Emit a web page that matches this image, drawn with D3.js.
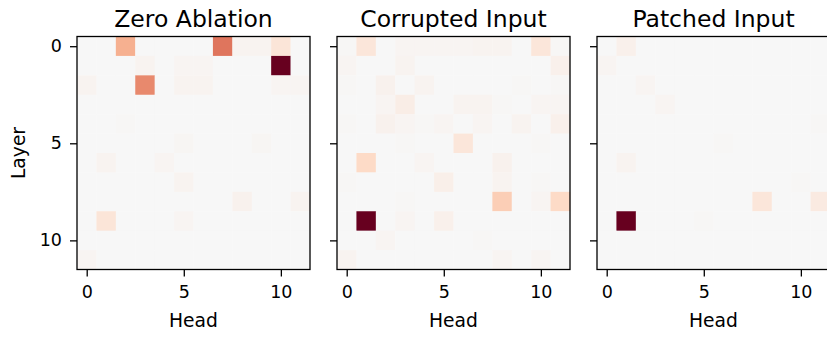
<!DOCTYPE html>
<html>
<head>
<meta charset="utf-8">
<script src="https://cdn.jsdelivr.net/npm/d3@7"></script>
<style>
  body { margin: 0; background: #fff; }
  text { font-family: "DejaVu Sans", sans-serif; fill: #000; }
</style>
</head>
<body>
<div id="chart"></div>
<script>
// head attribution per layer, three patching runs
let heads = d3.range(12);
let layers = d3.range(12);
let titles = ["Zero Ablation", "Corrupted Input", "Patched Input"];

let zeroAblation = [
  [0, 0, 0.36, 0, 0, 0, 0, 0.54, 0.03, 0.03, 0.13, 0],
  [0, 0, 0, 0.03, 0, 0.02, 0.02, 0, 0, 0, 1.0, 0],
  [0.03, 0, 0, 0.48, 0, 0.03, 0.03, 0, 0, 0, 0.02, 0.02],
  [0, 0, 0, 0, 0, 0, 0, 0, 0, 0, 0, 0],
  [0, 0, 0.01, 0, 0, 0, 0, 0, 0, 0, 0, 0],
  [0, 0, 0, 0, 0, 0.015, 0, 0, 0, 0.015, 0, 0],
  [0, 0.03, 0, 0, 0.02, 0, 0, 0, 0, 0, 0, 0],
  [0, 0, 0, 0, 0, 0.03, 0, 0, 0, 0, 0, 0],
  [0, 0, 0, 0, 0, 0, 0, 0, 0.04, 0, 0, 0.03],
  [0, 0.13, 0, 0, 0, 0.02, 0, 0, 0, 0, 0, 0],
  [0, 0, 0, 0, 0, 0, 0, 0, 0, 0, 0, 0],
  [0.02, 0, 0, 0, 0, 0, 0, 0, 0, 0, 0, 0]
];

let corruptedInput = [
  [0.01, 0.12, 0, 0.02, 0.02, 0.02, 0.02, 0.03, 0.03, 0, 0.12, 0.01],
  [0.02, 0, 0, 0.03, 0, 0, 0, 0, 0, 0, 0, 0.05],
  [0.01, 0, 0.04, 0, 0.03, 0, 0, 0, 0, 0.01, 0, 0.01],
  [0, 0, 0.02, 0.07, 0, 0, 0.03, 0.03, 0.01, 0, 0.02, 0.02],
  [0.01, 0, 0.04, 0.02, 0.01, 0.02, 0, 0.02, 0, 0.03, 0, 0.05],
  [0, 0, 0, 0.01, 0, 0, 0.12, 0, 0, 0, 0.01, 0],
  [0, 0.2, 0, 0, 0.02, 0, 0, 0, 0.04, 0, 0, 0],
  [0.01, 0, 0, 0, 0, 0.06, 0, 0, 0.03, 0, 0.01, 0],
  [0, 0, 0, 0.01, 0, 0, 0, 0, 0.25, 0, 0.02, 0.2],
  [0, 1.0, 0, 0.02, 0, 0.05, 0, 0, 0, 0, 0, 0],
  [0, 0, 0.02, 0, 0, 0, 0, 0.01, 0, 0, 0, 0],
  [0.03, 0, 0, 0, 0, 0, 0, 0, 0.02, 0, 0.02, 0]
];

let patchedInput = [
  [0, 0.05, 0, 0, 0, 0, 0, 0, 0, 0, 0, 0],
  [0.02, 0, 0, 0, 0, 0, 0, 0, 0, 0, 0, 0],
  [0, 0, 0.02, 0, 0, 0, 0, 0, 0, 0, 0, 0],
  [0, 0, 0, 0.02, 0, 0, 0, 0, 0, 0, 0, 0],
  [0, 0, 0, 0, 0, 0, 0, 0, 0, 0, 0, 0.01],
  [0, 0, 0, 0, 0, 0, 0.01, 0, 0, 0, 0, 0],
  [0, 0.03, 0, 0, 0, 0, 0, 0, 0, 0, 0, 0],
  [0, 0, 0, 0, 0, 0, 0, 0, 0, 0, 0.01, 0],
  [0, 0, 0, 0, 0, 0, 0, 0, 0.12, 0, 0, 0.09],
  [0, 1.0, 0, 0, 0, 0.01, 0, 0, 0, 0, 0, 0],
  [0, 0, 0, 0, 0, 0, 0, 0, 0, 0, 0, 0],
  [0, 0, 0, 0, 0, 0, 0, 0, 0, 0, 0, 0]
];

let panels = [zeroAblation, corruptedInput, patchedInput];

////////////////////////////////////////////////////////////////////////
// layout

let width = 827, height = 337;
let size = 233;
let panelLeft = [77, 337, 597];
let panelTop = 36.5;

// matplotlib's RdBu_r, linear between its 11 anchor colours
let rdbu = ["#053061", "#2166ac", "#4393c3", "#92c5de", "#d1e5f0", "#f7f7f7",
            "#fddbc7", "#f4a582", "#d6604d", "#b2182b", "#67001f"];
let colorScale = d3.scaleLinear()
  .domain(d3.range(11).map(i => -1 + i * 0.2))
  .range(rdbu)
  .interpolate(d3.interpolateRgb)
  .clamp(true);

let svg = d3.select("#chart").append("svg")
  .attr("width", width)
  .attr("height", height);

panels.forEach(function(data, p) {
  let x = d3.scaleBand().domain(heads).range([0, size]);
  let y = d3.scaleBand().domain(layers).range([0, size]);

  let g = svg.append("g")
    .attr("transform", "translate(" + panelLeft[p] + "," + panelTop + ")");

  let cells = [];
  data.forEach(function(row, r) {
    row.forEach(function(v, c) { cells.push({layer: r, head: c, value: v}); });
  });

  g.selectAll("rect.cell")
    .data(cells)
    .enter()
    .append("rect")
    .attr("class", "cell")
    .attr("x", d => x(d.head))
    .attr("y", d => y(d.layer))
    .attr("width", x.bandwidth() + 0.3)
    .attr("height", y.bandwidth() + 0.3)
    .attr("fill", d => colorScale(d.value));

  // axes: ticks at 0, 5, 10 through band centres
  let xl = d3.scaleLinear().domain([-0.5, 11.5]).range([0, size]);
  let yl = d3.scaleLinear().domain([-0.5, 11.5]).range([0, size]);

  let xAxis = g.append("g")
    .attr("transform", "translate(0," + size + ")")
    .call(d3.axisBottom(xl).tickValues([0, 5, 10]).tickSize(7).tickPadding(9));
  let yAxis = g.append("g")
    .call(d3.axisLeft(yl).tickValues([0, 5, 10]).tickSize(7).tickPadding(8)
      .tickFormat(p == 0 ? d3.format("d") : ""));

  [xAxis, yAxis].forEach(function(a) {
    a.select(".domain").remove();
    a.selectAll("line").attr("stroke", "#000").attr("stroke-width", 1.3);
    a.selectAll("text").style("font-size", "17.5px").attr("fill", "#000");
  });

  g.append("rect")
    .attr("width", size)
    .attr("height", size)
    .attr("fill", "none")
    .attr("stroke", "#000")
    .attr("stroke-width", 1.3);

  g.append("text")
    .attr("x", size / 2)
    .attr("y", 27 - panelTop)
    .attr("text-anchor", "middle")
    .style("font-size", "23.5px")
    .text(titles[p]);

  g.append("text")
    .attr("x", size / 2)
    .attr("y", 327 - panelTop)
    .attr("text-anchor", "middle")
    .style("font-size", "18.7px")
    .text("Head");
});

svg.append("text")
  .attr("transform", "translate(25," + (panelTop + size / 2) + ") rotate(-90)")
  .attr("text-anchor", "middle")
  .style("font-size", "18.7px")
  .text("Layer");
</script>
</body>
</html>
